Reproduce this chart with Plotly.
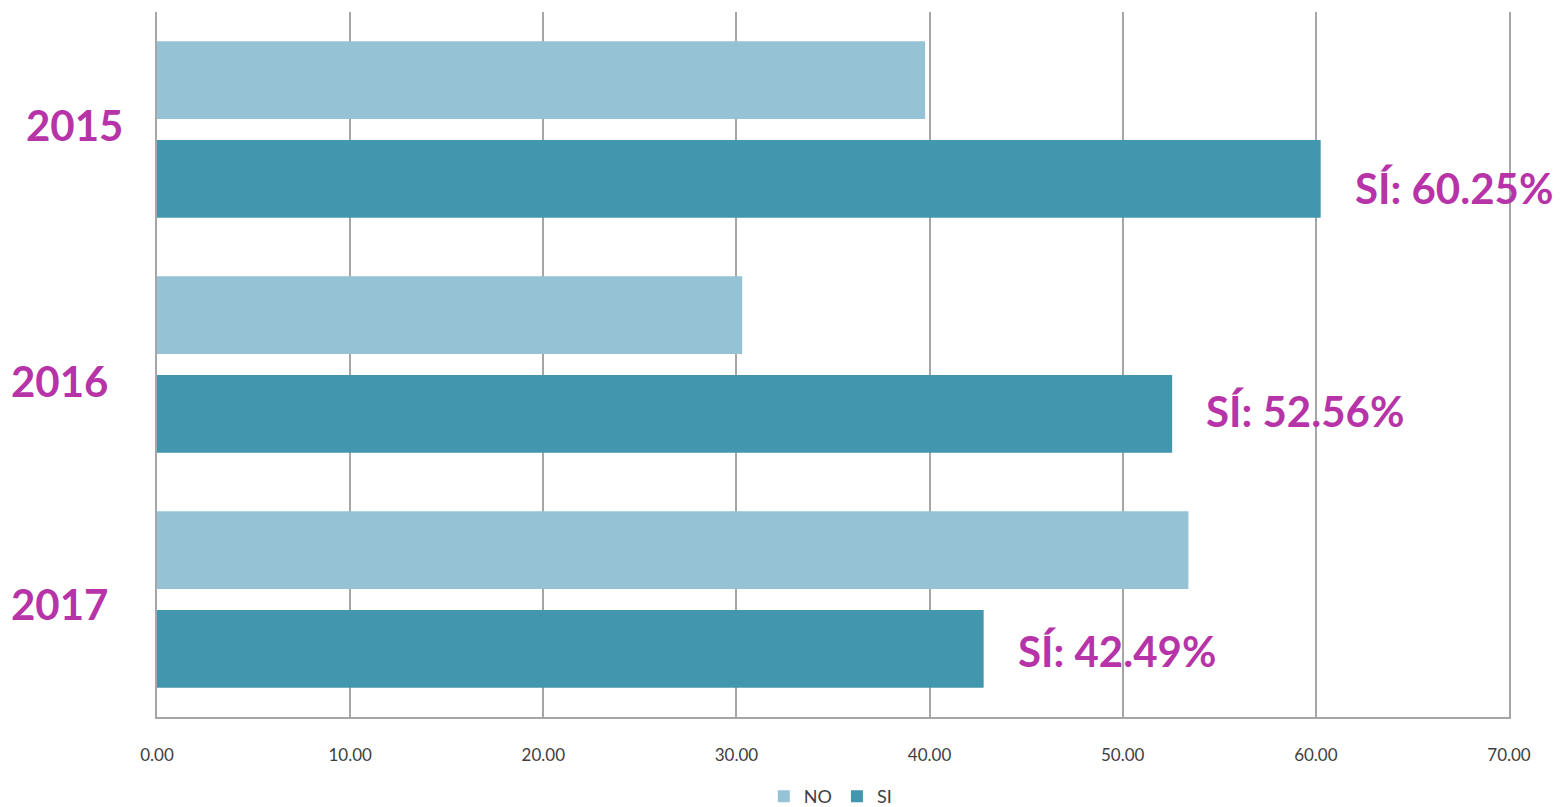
import plotly.graph_objects as go

years = ["2015", "2016", "2017"]
no_vals = [39.77, 30.30, 53.40]
si_vals = [60.25, 52.56, 42.80]
si_labels = ["SÍ: 60.25%", "SÍ: 52.56%", "SÍ: 42.49%"]
tick_vals = [0, 10, 20, 30, 40, 50, 60, 70]
tick_text = ["0.00", "10.00", "20.00", "30.00", "40.00", "50.00", "60.00", "70.00"]

MAG = "#B634A8"
fig = go.Figure()
fig.add_trace(go.Bar(y=years, x=no_vals, orientation="h", name="NO",
                     marker=dict(color="#95C3D5", line=dict(width=0))))
fig.add_trace(go.Bar(y=years, x=si_vals, orientation="h", name="SI",
                     marker=dict(color="#4297AF", line=dict(width=0))))

year_x = [-0.061, -0.072, -0.072]
year_shift = [5, -16, -4]
for i, yr in enumerate(years):
    fig.add_annotation(x=year_x[i], xref="paper", y=i, yref="y", text=yr,
                       showarrow=False, xanchor="center", yanchor="middle",
                       yshift=year_shift[i],
                       font=dict(family="Lato", size=42, color=MAG, weight="bold"))

lab_shift = [-58, -46, -51]
for i, yr in enumerate(years):
    fig.add_annotation(x=si_vals[i], xref="x", y=i, yref="y", text=si_labels[i],
                       showarrow=False, xanchor="left", yanchor="middle",
                       xshift=32, yshift=lab_shift[i],
                       font=dict(family="Lato", size=42, color=MAG, weight="bold"))

fig.update_layout(
    width=1556, height=799,
    margin=dict(l=149, r=55, t=4, b=90, autoexpand=False),
    paper_bgcolor="white", plot_bgcolor="white",
    barmode="group", bargap=0.159, bargroupgap=0.212,
    font=dict(family="Lato", color="#404040"),
    legend=dict(orientation="h", x=0.498, xanchor="center", y=-0.113, yanchor="middle",
                font=dict(size=18, color="#404040"), traceorder="normal",
                itemwidth=30),
    xaxis=dict(range=[0, 70], tickvals=tick_vals, ticktext=tick_text,
               showgrid=True, gridcolor="#A6A6A6", gridwidth=2,
               showline=True, linecolor="#A6A6A6", linewidth=2,
               zeroline=False, tickfont=dict(size=17, color="#404040"),
               ticks="", ticklabelstandoff=22),
    yaxis=dict(type="category", range=[2.5, -0.5], showticklabels=False, showgrid=False,
               showline=True, mirror=True, linecolor="#A6A6A6", linewidth=2,
               ticks=""),
)

fig.write_html("out.html")
